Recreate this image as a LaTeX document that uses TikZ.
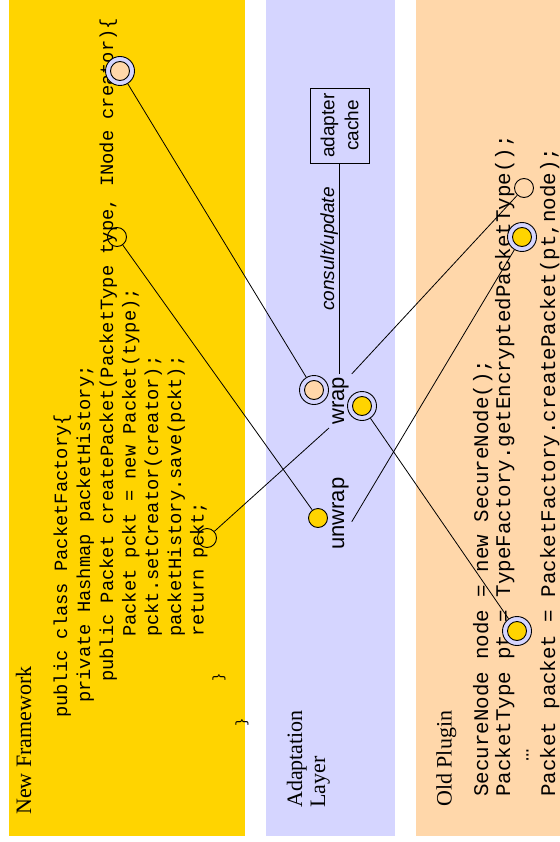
\documentclass[tikz,border=0pt]{standalone}
\usepackage{fontspec}
\setmainfont{Liberation Serif}
\setsansfont{Liberation Sans}
\setmonofont{Liberation Mono}
\definecolor{nfyellow}{RGB}{255,212,0}
\definecolor{adlav}{RGB}{213,213,255}
\definecolor{oppeach}{RGB}{255,215,170}
\tikzset{
  heading/.style={rotate=90, anchor=base west, inner sep=0pt, font=\fontsize{22}{26}\selectfont},
  nfcode/.style={rotate=90, anchor=base west, inner sep=0pt, font=\ttfamily\fontsize{18.75}{22}\selectfont},
  opcode/.style={rotate=90, anchor=base west, inner sep=0pt, font=\ttfamily\fontsize{20.8}{24}\selectfont},
  opname/.style={rotate=90, anchor=base west, inner sep=3pt, font=\sffamily\fontsize{22}{26}\selectfont},
  port/.style={circle, draw, line width=0.9pt, minimum size=19pt, inner sep=0pt},
  dot/.style={port, fill=nfyellow},
  ring/.style={circle, draw, line width=0.9pt, fill=adlav, minimum size=29pt, inner sep=0pt,
    path picture={\draw[line width=0.9pt, fill=#1] (path picture bounding box.center) circle[radius=9.5pt];}},
  link/.style={line width=0.8pt},
  cachebox/.style={rotate=90, draw, line width=0.9pt, minimum width=75pt, minimum height=59pt,
    align=center, font=\sffamily\fontsize{19}{24}\selectfont},
  edgelabel/.style={rotate=90, anchor=base, inner sep=0pt, font=\sffamily\itshape\fontsize{19}{22}\selectfont}
}
\begin{document}
\begin{tikzpicture}[x=1pt, y=-1pt]
\useasboundingbox (0,0) rectangle (559,842);

% the three layers
\fill[nfyellow] (9,0) rectangle (245,836);
\fill[adlav] (266,0) rectangle (395,836);
\fill[oppeach] (416,0) rectangle (560,836);

% headings
\node[heading] (hnf) at (31,815) {New Framework};
\node[heading] (had1) at (302,808) {Adaptation};
\node[heading] (had2) at (325,808) {Layer};
\node[heading] (hop) at (451.5,807) {Old Plugin};

% new framework code
\node[nfcode] (n1) at (67,718) {public class PacketFactory\{};
\node[nfcode] (n2) at (90,703) {private Hashmap packetHistory;};
\node[nfcode] (n3) at (113,682) {public Packet createPacket(PacketType type, INode creator)\{};
\node[nfcode] (n4) at (135.5,637) {Packet pckt = new Packet(type);};
\node[nfcode] (n5) at (158,637) {pckt.setCreator(creator);};
\node[nfcode] (n6) at (181,637) {packetHistory.save(pckt);};
\node[nfcode] (n7) at (203.5,637) {return pckt;};
\node[rotate=90, inner sep=0pt, font=\ttfamily\fontsize{14}{16}\selectfont] (nb1) at (219,677) {\}};
\node[rotate=90, inner sep=0pt, font=\ttfamily\fontsize{14}{16}\selectfont] (nb2) at (242,722) {\}};

% old plugin code
\node[opcode] (o1) at (488,797) {SecureNode node = new SecureNode();};
\node[opcode] (o2) at (510,797) {PacketType pt = TypeFactory.getEncryptedPacketType();};
\node[opcode, anchor=base] (o3) at (528.5,755) {…};
\node[opcode] (o4) at (555,797) {Packet packet = PacketFactory.createPacket(pt,node);};

% adaptation layer operations
\node[opname] (wrap) at (344,428) {wrap};
\node[opname] (unwrap) at (344,553) {unwrap};
\node[cachebox] (cache) at (339.5,125.5) {adapter\\cache};
\draw[link] (cache.west) -- (cache.west |- wrap.east);
\node[edgelabel] (cu) at (334,249) {consult/update};

% ports
\node[ring=oppeach] (A) at (120,71) {};
\node[port] (B) at (117,237) {};
\node[port] (C) at (207,538) {};
\node[ring=oppeach] (D) at (314,390) {};
\node[ring=nfyellow] (E) at (362,406) {};
\node[dot] (F) at (318,518) {};
\node[port] (G) at (524,188) {};
\node[ring=nfyellow] (H) at (522,237) {};
\node[ring=nfyellow] (I) at (517,631) {};

% connections
\draw[link] (A) -- (D);
\draw[link] (B) -- (F);
\draw[link] (C) -- (wrap.north west);
\draw[link] (wrap.south east) -- (G);
\draw[link] ([yshift=-8pt]unwrap.south) -- (H);
\draw[link] (E) -- (I);
\end{tikzpicture}
\end{document}
